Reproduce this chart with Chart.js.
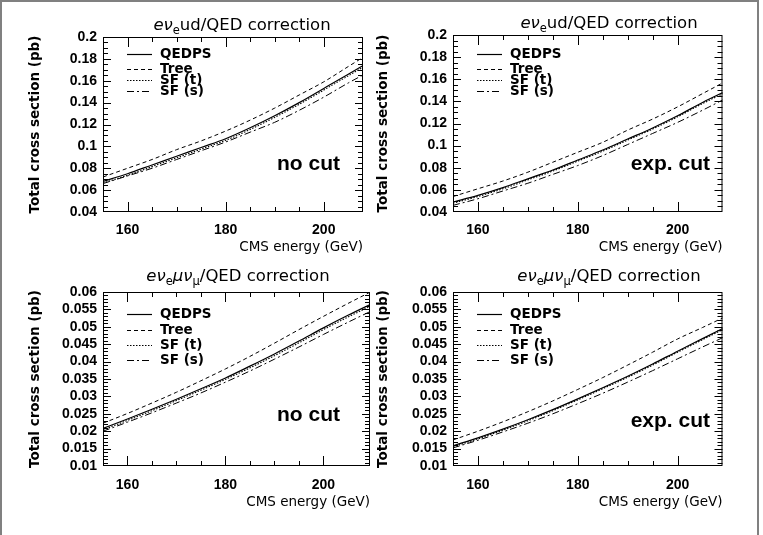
<!DOCTYPE html>
<html>
<head>
<meta charset="utf-8">
<script src="https://cdn.jsdelivr.net/npm/chart.js@4.4.1/dist/chart.umd.min.js"></script>
<style>
  body { margin: 0; background: #fff; width: 763px; height: 535px; position: relative; overflow: hidden; }
  #frame { position: absolute; left: 0; top: 0; width: 755px; height: 600px; border: 2px solid #808080; border-bottom: none; }
  .panel { position: absolute; }
</style>
</head>
<body>
<div id="frame"></div>
<canvas id="c1" class="panel" width="372" height="262" style="left:0px;top:0px"></canvas>
<canvas id="c2" class="panel" width="393" height="262" style="left:370px;top:0px"></canvas>
<canvas id="c3" class="panel" width="372" height="273" style="left:0px;top:262px"></canvas>
<canvas id="c4" class="panel" width="393" height="273" style="left:370px;top:262px"></canvas>
<script>
// CMS energy (GeV)
const energies = [155, 160, 165, 170, 175, 180, 185, 190, 195, 200, 205, 210];
const seriesNames = ["QEDPS", "Tree", "SF (t)", "SF (s)"];
const xLabelTicks = [160, 180, 200];

// e nu_e u d, no cut (pb)
const udNoCutQedps = [0.068, 0.075, 0.083, 0.091, 0.099, 0.107, 0.117, 0.128, 0.140, 0.153, 0.166, 0.179];
const udNoCutTree  = [0.072, 0.080, 0.088, 0.097, 0.105, 0.114, 0.124, 0.135, 0.147, 0.159, 0.173, 0.187];
const udNoCutSft   = [0.0665, 0.0735, 0.0815, 0.0895, 0.0975, 0.1055, 0.1155, 0.1265, 0.1385, 0.1515, 0.1645, 0.1775];
const udNoCutSfs   = [0.066, 0.073, 0.080, 0.088, 0.096, 0.104, 0.113, 0.122, 0.133, 0.145, 0.158, 0.170];

// e nu_e u d, exp. cut (pb)
const udCutQedps = [0.049, 0.055, 0.062, 0.070, 0.078, 0.087, 0.096, 0.106, 0.116, 0.127, 0.139, 0.150];
const udCutTree  = [0.054, 0.061, 0.068, 0.076, 0.085, 0.094, 0.103, 0.114, 0.124, 0.135, 0.147, 0.159];
const udCutSft   = [0.048, 0.054, 0.061, 0.069, 0.077, 0.086, 0.095, 0.105, 0.115, 0.126, 0.138, 0.149];
const udCutSfs   = [0.046, 0.052, 0.059, 0.066, 0.074, 0.082, 0.091, 0.101, 0.111, 0.121, 0.132, 0.1435];

// e nu_e mu nu_mu, no cut (pb)
const muNoCutQedps = [0.0208, 0.0235, 0.0263, 0.0292, 0.0322, 0.0353, 0.0387, 0.0422, 0.0459, 0.0497, 0.0533, 0.0567];
const muNoCutTree  = [0.0223, 0.0251, 0.0281, 0.0312, 0.0345, 0.0379, 0.0415, 0.0453, 0.0492, 0.0530, 0.0567, 0.0603];
const muNoCutSft   = [0.0204, 0.0231, 0.0259, 0.0288, 0.0318, 0.0349, 0.0382, 0.0417, 0.0454, 0.0492, 0.0528, 0.0562];
const muNoCutSfs   = [0.0200, 0.0226, 0.0253, 0.0281, 0.0310, 0.0341, 0.0373, 0.0407, 0.0442, 0.0478, 0.0513, 0.0547];

// e nu_e mu nu_mu, exp. cut (pb)
const muCutQedps = [0.0158, 0.0181, 0.0206, 0.0233, 0.0262, 0.0293, 0.0325, 0.0358, 0.0393, 0.0430, 0.0466, 0.0502];
const muCutTree  = [0.0175, 0.0200, 0.0227, 0.0256, 0.0287, 0.0320, 0.0354, 0.0390, 0.0427, 0.0465, 0.0498, 0.0532];
const muCutSft   = [0.0155, 0.0178, 0.0203, 0.0230, 0.0259, 0.0290, 0.0322, 0.0355, 0.0390, 0.0427, 0.0463, 0.0499];
const muCutSfs   = [0.0152, 0.0174, 0.0198, 0.0223, 0.0250, 0.0279, 0.0309, 0.0341, 0.0374, 0.0408, 0.0442, 0.0475];

const lineDashes = [[], [4, 3], [1.5, 1.5], [7, 3, 2, 3]];
const lineWidths = [1.2, 1, 1.1, 1];

const titleUd = [
  { t: "eν", italic: true },
  { t: "e", sub: true },
  { t: "ud/QED correction" }
];
const titleMu = [
  { t: "eν", italic: true },
  { t: "e", sub: true },
  { t: "μν", italic: true },
  { t: "μ", sub: true },
  { t: "/QED correction" }
];

const tickFont = { family: "Liberation Sans", weight: "bold", size: 14 };

function decorPlugin(p) {
  return {
    id: "decor",
    afterDraw(chart) {
      const ctx = chart.ctx;
      const a = chart.chartArea;
      const xs = chart.scales.x;
      const ys = chart.scales.y;
      ctx.save();
      ctx.strokeStyle = "#000";
      ctx.fillStyle = "#000";
      ctx.lineWidth = 1;
      ctx.setLineDash([]);
      ctx.strokeRect(a.left + 0.5, a.top + 0.5, a.right - a.left - 1, a.bottom - a.top - 1);

      // inward ticks on all four sides
      ctx.beginPath();
      xs.ticks.forEach(t => {
        const v = t.value;
        if (v <= xs.min || v >= xs.max) return;
        if (Math.abs(v / 5 - Math.round(v / 5)) > 1e-6) return;
        const len = v % 20 === 0 ? 10 : 5;
        const px = Math.round(xs.getPixelForValue(v)) + 0.5;
        ctx.moveTo(px, a.bottom); ctx.lineTo(px, a.bottom - len);
        ctx.moveTo(px, a.top); ctx.lineTo(px, a.top + len);
      });
      ys.ticks.forEach(t => {
        const v = t.value;
        if (v <= ys.min + 1e-9 || v >= ys.max - 1e-9) return;
        const r = v / p.yLabelStep;
        const len = Math.abs(r - Math.round(r)) < 1e-6 ? 8 : 5;
        const py = Math.round(ys.getPixelForValue(v)) + 0.5;
        ctx.moveTo(a.left, py); ctx.lineTo(a.left + len, py);
        ctx.moveTo(a.right, py); ctx.lineTo(a.right - len, py);
      });
      ctx.stroke();

      // legend
      ctx.font = "bold 13.5px 'DejaVu Sans'";
      ctx.textBaseline = "middle";
      ctx.textAlign = "left";
      chart.data.datasets.forEach((ds, i) => {
        const y = Math.round(a.top + p.legendRows[i]) + 0.5;
        ctx.beginPath();
        ctx.lineWidth = ds.borderWidth;
        ctx.setLineDash(ds.borderDash);
        ctx.moveTo(a.left + 24, y);
        ctx.lineTo(a.left + 49, y);
        ctx.stroke();
        ctx.fillText(ds.label, a.left + 57, y);
      });
      ctx.setLineDash([]);

      // title with italic and subscript parts
      const fontFor = part => part.sub ? "11.5px 'DejaVu Sans'" :
        (part.italic ? "oblique 16.5px 'DejaVu Sans'" : "16.5px 'DejaVu Sans'");
      let total = 0;
      p.title.forEach(part => { ctx.font = fontFor(part); total += ctx.measureText(part.t).width; });
      let x = p.titleCx - total / 2;
      ctx.textBaseline = "alphabetic";
      p.title.forEach(part => {
        ctx.font = fontFor(part);
        ctx.fillText(part.t, x, p.titleBase + (part.sub ? 4 : 0));
        x += ctx.measureText(part.t).width;
      });

      // cut label
      ctx.font = "bold 21px 'Liberation Sans'";
      ctx.textAlign = "right";
      ctx.fillText(p.cut, a.right - p.cutRight, p.cutBase);
      ctx.restore();
    }
  };
}

function makeChart(id, p) {
  const canvas = document.getElementById(id);
  const H = canvas.height;
  const datasets = p.series.map((vals, i) => ({
    label: seriesNames[i],
    data: energies.map((e, j) => ({ x: e, y: vals[j] })),
    borderColor: "#000",
    borderWidth: lineWidths[i],
    borderDash: lineDashes[i],
    pointRadius: 0,
    fill: false,
    cubicInterpolationMode: "monotone"
  }));
  return new Chart(canvas, {
    type: "line",
    data: { datasets: datasets },
    options: {
      responsive: false,
      animation: false,
      devicePixelRatio: 1,
      layout: { padding: { left: p.padLeft, right: p.padRight, top: p.top, bottom: 0 } },
      plugins: { legend: { display: false }, title: { display: false }, tooltip: { enabled: false } },
      scales: {
        x: {
          type: "linear",
          min: 155,
          max: p.xMax,
          // hidden grid; tickLength only pushes the labels down
          grid: { display: false, drawTicks: true, tickLength: p.xTickPad },
          border: { display: false },
          ticks: {
            stepSize: 5,
            autoSkip: false,
            maxRotation: 0,
            padding: 0,
            color: "#000",
            font: tickFont,
            callback: v => (xLabelTicks.includes(v) ? String(v) : "")
          },
          title: {
            display: true,
            text: "CMS energy (GeV)",
            align: "end",
            color: "#000",
            font: { family: "DejaVu Sans", size: 13.5 },
            padding: { top: 0, bottom: p.xTitlePad }
          },
          afterFit: s => { s.height = H - p.bottom; }
        },
        y: {
          min: p.yMin,
          max: p.yMax,
          grid: { display: false, drawTicks: false },
          border: { display: false },
          ticks: {
            stepSize: p.yStep,
            autoSkip: false,
            padding: 6,
            color: "#000",
            font: tickFont,
            callback: v => {
              const r = v / p.yLabelStep;
              return Math.abs(r - Math.round(r)) < 1e-6 ? String(Math.round(v * 1000) / 1000) : "";
            }
          },
          title: {
            display: true,
            text: "Total cross section (pb)",
            color: "#000",
            font: { family: "DejaVu Sans", weight: "bold", size: 13.5 },
            padding: 0
          },
          afterFit: s => { s.width = p.yWidth; }
        }
      }
    },
    plugins: [decorPlugin(p)]
  });
}

makeChart("c1", {
  series: [udNoCutQedps, udNoCutTree, udNoCutSft, udNoCutSfs],
  title: titleUd, cut: "no cut",
  xMax: 208, yMin: 0.04, yMax: 0.2, yStep: 0.005, yLabelStep: 0.02,
  padLeft: 27, yWidth: 76, padRight: 9, top: 37, bottom: 212,
  xTickPad: 10, xTitlePad: 6,
  titleCx: 242, titleBase: 30, cutRight: 23, cutBase: 170,
  legendRows: [17, 32, 43, 54]
});
makeChart("c2", {
  series: [udCutQedps, udCutTree, udCutSft, udCutSfs],
  title: titleUd, cut: "exp. cut",
  xMax: 209, yMin: 0.04, yMax: 0.2, yStep: 0.005, yLabelStep: 0.02,
  padLeft: 5, yWidth: 78, padRight: 40.5, top: 35, bottom: 212,
  xTickPad: 10, xTitlePad: 6,
  titleCx: 239, titleBase: 28, cutRight: 12.5, cutBase: 170,
  legendRows: [19, 34, 45, 56]
});
makeChart("c3", {
  series: [muNoCutQedps, muNoCutTree, muNoCutSft, muNoCutSfs],
  title: titleMu, cut: "no cut",
  xMax: 209.5, yMin: 0.01, yMax: 0.06, yStep: 0.001, yLabelStep: 0.005,
  padLeft: 27, yWidth: 76, padRight: 2, top: 30, bottom: 204,
  xTickPad: 11, xTitlePad: 24,
  titleCx: 238, titleBase: 19, cutRight: 30, cutBase: 159,
  legendRows: [22, 38, 53, 68]
});
makeChart("c4", {
  series: [muCutQedps, muCutTree, muCutSft, muCutSfs],
  title: titleMu, cut: "exp. cut",
  xMax: 209, yMin: 0.01, yMax: 0.06, yStep: 0.001, yLabelStep: 0.005,
  padLeft: 5, yWidth: 78, padRight: 40.5, top: 30, bottom: 204,
  xTickPad: 11, xTitlePad: 24,
  titleCx: 239, titleBase: 19, cutRight: 12.5, cutBase: 165,
  legendRows: [22, 38, 53, 68]
});
</script>
</body>
</html>
